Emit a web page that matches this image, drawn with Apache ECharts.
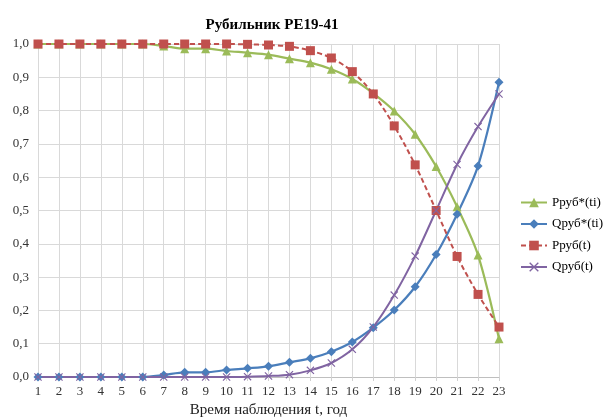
<!DOCTYPE html>
<html>
<head>
<meta charset="utf-8">
<script src="https://cdn.jsdelivr.net/npm/echarts@6/dist/echarts.min.js"></script>
<style>
html,body{margin:0;padding:0;background:#fff;}
#chart{width:604px;height:419px;}
</style>
</head>
<body>
<div id="chart"></div>
<script>
const categories = ['1','2','3','4','5','6','7','8','9','10','11','12','13','14','15','16','17','18','19','20','21','22','23'];
const pStarTi = [1, 1, 1, 1, 1, 1, 0.994, 0.986, 0.986, 0.979, 0.974, 0.968, 0.956, 0.944, 0.924, 0.895, 0.852, 0.799, 0.729, 0.632, 0.511, 0.366, 0.115];
const qStarTi = [0, 0, 0, 0, 0, 0, 0.006, 0.014, 0.014, 0.021, 0.026, 0.032, 0.044, 0.056, 0.076, 0.105, 0.148, 0.201, 0.271, 0.368, 0.489, 0.634, 0.885];
const pT = [1, 1, 1, 1, 1, 1, 1, 1, 1, 1, 0.999, 0.997, 0.993, 0.98, 0.958, 0.917, 0.85, 0.754, 0.637, 0.5, 0.362, 0.248, 0.15];
const qT = [0, 0, 0, 0, 0, 0, 0, 0, 0, 0, 0.001, 0.003, 0.007, 0.02, 0.042, 0.083, 0.15, 0.246, 0.363, 0.5, 0.638, 0.752, 0.85];
const seriesNames = ['Pруб*(ti)', 'Qруб*(ti)', 'Pруб(t)', 'Qруб(t)'];
const xAxisTitle = 'Время наблюдения t, год';
const chartTitle = 'Рубильник РЕ19-41';

const font = '"Liberation Serif", "DejaVu Serif", serif';
const crossPath = 'path://M0,1 L1,0 L5,4 L9,0 L10,1 L6,5 L10,9 L9,10 L5,6 L1,10 L0,9 L4,5 Z';

const chart = echarts.init(document.getElementById('chart'), null, {renderer: 'canvas'});
chart.setOption({
  animation: false,
  backgroundColor: '#fff',
  title: {
    text: chartTitle,
    left: 267, top: 13, textAlign: 'center',
    textStyle: {fontFamily: font, fontSize: 15, fontWeight: 'bold', color: '#000'}
  },
  legend: {
    orient: 'vertical',
    left: 520, top: 196,
    padding: 0,
    itemGap: 8.5,
    itemWidth: 26, itemHeight: 12,
    textStyle: {fontFamily: font, fontSize: 13, color: '#000'},
    data: seriesNames
  },
  grid: {left: 38, right: 105, top: 44, bottom: 42, containLabel: false, outerBoundsMode: 'none'},
  xAxis: {
    type: 'category',
    data: categories,
    boundaryGap: false,
    name: xAxisTitle,
    nameLocation: 'middle',
    nameGap: 26,
    nameTextStyle: {fontFamily: font, fontSize: 15, color: '#222'},
    axisLine: {lineStyle: {color: '#bfbfbf'}},
    axisTick: {show: true, length: 4, lineStyle: {color: '#d0d0d0'}},
    axisLabel: {fontFamily: font, fontSize: 13, color: '#333', margin: 8},
    splitLine: {show: true, lineStyle: {color: '#d9d9d9', width: 1}}
  },
  yAxis: {
    type: 'value',
    min: 0, max: 1, interval: 0.1,
    axisLine: {show: false},
    axisTick: {show: false},
    axisLabel: {fontFamily: font, fontSize: 13, color: '#333', margin: 9,
      formatter: v => v.toFixed(1).replace('.', ',')},
    splitLine: {show: true, lineStyle: {color: '#d9d9d9', width: 1}}
  },
  series: [
    {name: seriesNames[0], type: 'line', data: pStarTi, smooth: 0.3,
     symbol: 'triangle', symbolSize: 9,
     itemStyle: {color: '#9BBB59'}, lineStyle: {color: '#9BBB59', width: 2.2}},
    {name: seriesNames[1], type: 'line', data: qStarTi, smooth: 0.3,
     symbol: 'diamond', symbolSize: 9,
     itemStyle: {color: '#4A7EBB'}, lineStyle: {color: '#4A7EBB', width: 2.2}},
    {name: seriesNames[2], type: 'line', data: pT, smooth: 0.3,
     symbol: 'rect', symbolSize: 9,
     itemStyle: {color: '#C0504D'}, lineStyle: {color: '#C0504D', width: 2, type: [5, 3]}},
    {name: seriesNames[3], type: 'line', data: qT, smooth: 0.3,
     symbol: crossPath, symbolSize: 8,
     itemStyle: {color: '#8064A2'}, lineStyle: {color: '#8064A2', width: 2}}
  ]
});
</script>
</body>
</html>
